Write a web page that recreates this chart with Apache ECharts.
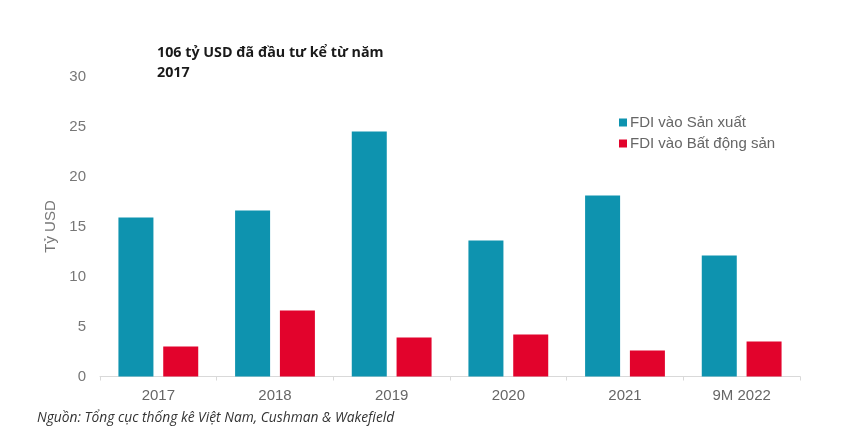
<!DOCTYPE html>
<html>
<head>
<meta charset="utf-8">
<script src="https://cdn.jsdelivr.net/npm/echarts@6/dist/echarts.min.js"></script>
<style>
html,body{margin:0;padding:0;background:#fff;}
#c{width:853px;height:446px;}
</style>
</head>
<body>
<div id="c"></div>
<script>
const categories = ['2017', '2018', '2019', '2020', '2021', '9M 2022'];
const manufacturing = [15.9, 16.6, 24.5, 13.6, 18.1, 12.1];
const realEstate = [3.0, 6.6, 3.9, 4.2, 2.6, 3.5];
const seriesNames = ['FDI vào Sản xuất', 'FDI vào Bất động sản'];
const titleText = '106 tỷ USD đã đầu tư kể từ năm\n2017';
const sourceText = 'Nguồn: Tổng cục thống kê Việt Nam, Cushman & Wakefield';
const yAxisName = 'Tỷ USD';

const chart = echarts.init(document.getElementById('c'), null, {renderer: 'canvas'});
chart.setOption({
  animation: false,
  backgroundColor: '#ffffff',
  title: [
    {
      text: titleText,
      left: 152, top: 38,
      textStyle: {fontFamily: 'Open Sans', fontWeight: 'bold', fontSize: 14.3, color: '#1a1a1a', lineHeight: 20}
    },
    {
      text: sourceText,
      left: 32, top: 406,
      textStyle: {fontFamily: 'Open Sans', fontStyle: 'italic', fontWeight: 'normal', fontSize: 13.8, color: '#333333'}
    }
  ],
  legend: {
    orient: 'vertical',
    left: 614, top: 110,
    itemWidth: 8, itemHeight: 8, itemGap: 6,
    icon: 'rect',
    textStyle: {fontFamily: 'Liberation Sans', fontSize: 15, color: '#666666', padding: [0,0,0,-2]},
    data: seriesNames
  },
  grid: {left: 100, right: 53, top: 76.5, bottom: 69.5},
  xAxis: {
    type: 'category',
    data: categories,
    axisLine: {lineStyle: {color: '#d9d9d9', width: 1}},
    axisTick: {show: true, lineStyle: {color: '#d9d9d9'}, length: 4},
    axisLabel: {fontFamily: 'Liberation Sans', fontSize: 15, color: '#666666', margin: 12}
  },
  yAxis: {
    type: 'value',
    min: 0, max: 30, interval: 5,
    name: yAxisName,
    nameLocation: 'middle',
    nameGap: 39,
    nameTextStyle: {fontFamily: 'Liberation Sans', fontSize: 15, color: '#777777'},
    axisLine: {show: false},
    axisTick: {show: false},
    splitLine: {show: false},
    axisLabel: {fontFamily: 'Liberation Sans', fontSize: 15, color: '#777777', margin: 14}
  },
  series: [
    {
      name: seriesNames[0], type: 'bar', data: manufacturing,
      barWidth: 35, barGap: '28%',
      itemStyle: {color: '#0E93AF'}
    },
    {
      name: seriesNames[1], type: 'bar', data: realEstate,
      barWidth: 35,
      itemStyle: {color: '#E2032C'}
    }
  ]
});
</script>
</body>
</html>
